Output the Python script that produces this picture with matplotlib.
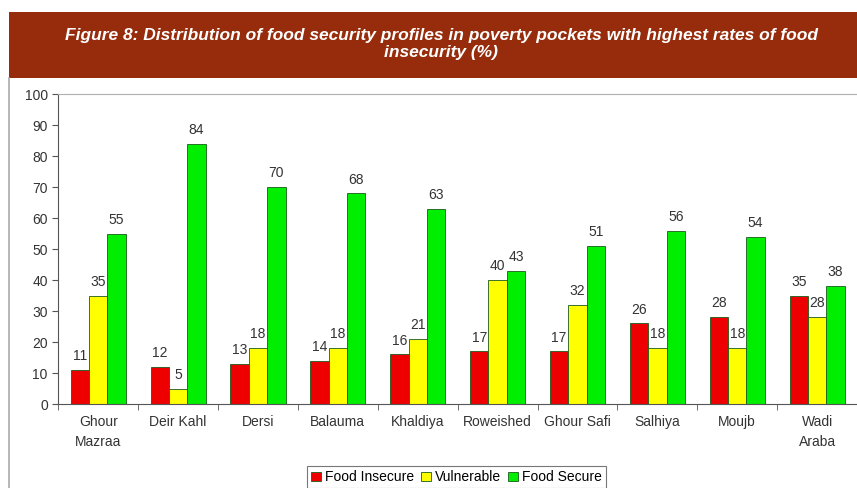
import numpy as np
import matplotlib
matplotlib.use("Agg")
import matplotlib.pyplot as plt
from matplotlib.patches import Rectangle
from matplotlib.lines import Line2D

plt.rcParams['font.family'] = ['Liberation Sans', 'DejaVu Sans']

# data
places = ["Ghour\nMazraa", "Deir Kahl", "Dersi", "Balauma", "Khaldiya",
          "Roweished", "Ghour Safi", "Salhiya", "Moujb", "Wadi\nAraba"]
food_insecure = [11, 12, 13, 14, 16, 17, 17, 26, 28, 35]
vulnerable = [35, 5, 18, 18, 21, 40, 32, 18, 18, 28]
food_secure = [55, 84, 70, 68, 63, 43, 51, 56, 54, 38]
series_names = ["Food Insecure", "Vulnerable", "Food Secure"]
colours = ["#ee0000", "#ffff00", "#00ee00"]

fig = plt.figure(figsize=(8.57, 4.88), dpi=100)

# title banner
fig.patches.append(Rectangle((0.011, 0.84), 0.99, 0.135, transform=fig.transFigure,
                             facecolor="#962c0c", edgecolor="none", zorder=0))
fig.text(0.515, 0.91, "Figure 8: Distribution of food security profiles in poverty pockets with highest rates of food\ninsecurity (%)",
         ha="center", va="center", color="white", fontsize=12.5, fontweight="bold",
         fontstyle="italic", linespacing=1.2)
# outer frame line on the left
fig.lines.append(Line2D([0.011, 0.011], [0.0, 0.84], transform=fig.transFigure,
                        color="#aaaaaa", lw=1.2))

ax = fig.add_axes([0.068, 0.172, 0.932, 0.635])
x = np.arange(len(places))
w = 0.23
for i, (vals, col, name) in enumerate(zip([food_insecure, vulnerable, food_secure], colours, series_names)):
    bars = ax.bar(x + (i - 1) * w, vals, w, color=col, edgecolor="#1a5a1a", linewidth=0.6, label=name)
    for b, v in zip(bars, vals):
        ax.text(b.get_x() + b.get_width() / 2, v + 2.2, str(v), ha="center", va="bottom",
                fontsize=10, color="#333333")

ax.set_xlim(-0.5, len(places) - 0.5)
ax.set_ylim(0, 100)
ax.set_yticks(range(0, 101, 10))
ax.set_xticks(x)
ax.set_xticklabels(places, fontsize=10, color="#333333", linespacing=1.5)
ax.set_xticks(np.arange(-0.5, len(places), 1), minor=True)
ax.tick_params(axis="x", which="major", length=0, pad=8)
ax.tick_params(axis="x", which="minor", length=4, direction="out", color="#555555")
ax.tick_params(axis="y", labelsize=10, labelcolor="#333333", length=4, color="#555555")
ax.spines["right"].set_visible(False)
ax.spines["top"].set_color("#b0b0b0")
ax.spines["left"].set_color("#555555")
ax.spines["bottom"].set_color("#555555")

leg = fig.legend(loc="center", bbox_to_anchor=(0.533, 0.022), ncol=3, fontsize=10,
                 frameon=True, fancybox=False, edgecolor="#555555", handlelength=0.7,
                 handleheight=0.7, handletextpad=0.3, columnspacing=0.5, borderpad=0.3)
leg.get_frame().set_linewidth(0.8)

fig.savefig("out.png", dpi=100)
